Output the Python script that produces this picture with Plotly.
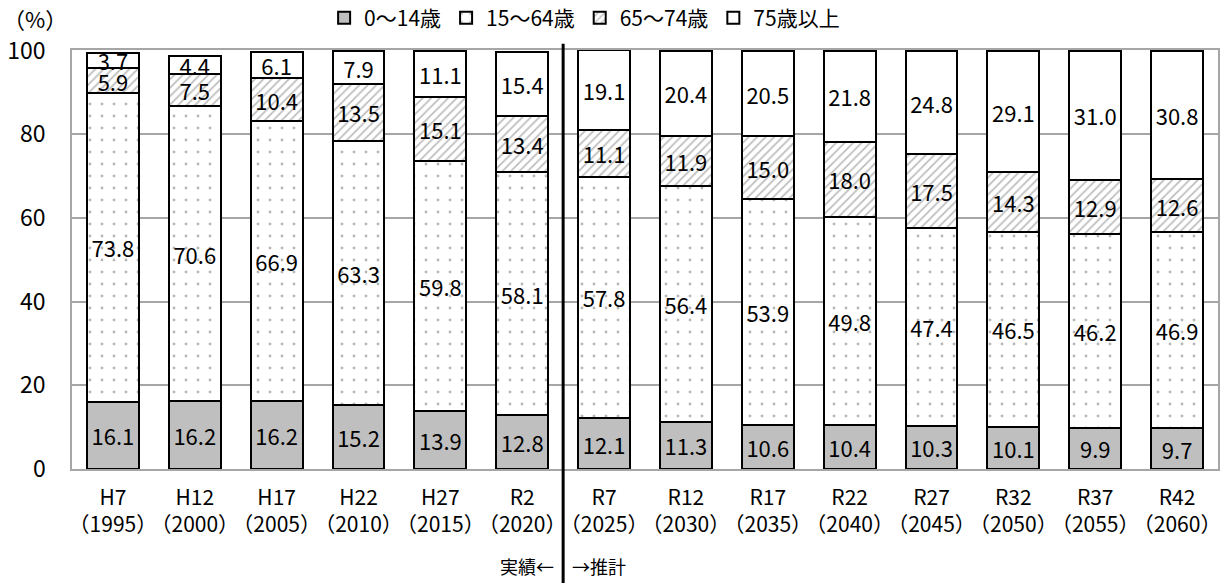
import plotly.graph_objects as go

periods = ["H7", "H12", "H17", "H22", "H27", "R2", "R7", "R12", "R17", "R22", "R27", "R32", "R37", "R42"]
years = ["1995", "2000", "2005", "2010", "2015", "2020", "2025", "2030", "2035", "2040", "2045", "2050", "2055", "2060"]

age0_14 = [16.1, 16.2, 16.2, 15.2, 13.9, 12.8, 12.1, 11.3, 10.6, 10.4, 10.3, 10.1, 9.9, 9.7]
age15_64 = [73.8, 70.6, 66.9, 63.3, 59.8, 58.1, 57.8, 56.4, 53.9, 49.8, 47.4, 46.5, 46.2, 46.9]
age65_74 = [5.9, 7.5, 10.4, 13.5, 15.1, 13.4, 11.1, 11.9, 15.0, 18.0, 17.5, 14.3, 12.9, 12.6]
age75 = [3.7, 4.4, 6.1, 7.9, 11.1, 15.4, 19.1, 20.4, 20.5, 21.8, 24.8, 29.1, 31.0, 30.8]

series_names = ["0～14歳", "15～64歳", "65～74歳", "75歳以上"]

FONT = "Noto Sans CJK JP"
cats = [f"{p}<br>（{y}）" for p, y in zip(periods, years)]

fig = go.Figure()

styles = [
    dict(color="#bfbfbf"),
    dict(color="white", pattern=dict(shape=".", fgcolor="#6e6e6e", bgcolor="white", size=12, solidity=0.045)),
    dict(color="white", pattern=dict(shape="/", fgcolor="#7a7a7a", bgcolor="white", size=6, solidity=0.28)),
    dict(color="white"),
]

for name, vals, st in zip(series_names, [age0_14, age15_64, age65_74, age75], styles):
    fig.add_trace(go.Bar(
        name=name, x=cats, y=vals,
        marker=dict(line=dict(color="black", width=2), **st),
        text=[f"{v:.1f}" for v in vals],
        textposition="inside", insidetextanchor="middle",
        constraintext="none", textangle=0,
        textfont=dict(family=FONT, size=22, color="black"),
        cliponaxis=False,
    ))

fig.add_shape(type="line", xref="x", yref="paper", x0=5.5, x1=5.5, y0=-0.28, y1=1.015,
              line=dict(color="black", width=3))

fig.add_annotation(xref="x", yref="paper", x=5.5, y=-0.232, text="実績←", showarrow=False,
                   xanchor="right", yanchor="middle", xshift=-7, font=dict(family=FONT, size=18, color="black"))
fig.add_annotation(xref="x", yref="paper", x=5.5, y=-0.232, text="→推計", showarrow=False,
                   xanchor="left", yanchor="middle", xshift=7, font=dict(family=FONT, size=18, color="black"))
fig.add_annotation(xref="paper", yref="paper", x=-0.062, y=1.076, text="（%）", showarrow=False,
                   xanchor="left", yanchor="middle", font=dict(family=FONT, size=22, color="black"))

fig.update_layout(
    width=1227, height=583,
    margin=dict(l=72, r=9, t=50, b=114, autoexpand=False),
    barmode="stack", bargap=0.366,
    plot_bgcolor="white", paper_bgcolor="white",
    font=dict(family=FONT, size=22, color="black"),
    showlegend=True,
    legend=dict(orientation="h", x=0.22, xanchor="left", y=1.076, yanchor="middle",
                traceorder="normal", font=dict(family=FONT, size=21), bgcolor="rgba(0,0,0,0)",
                itemwidth=30),
)
fig.update_xaxes(showline=True, linecolor="#a6a6a6", linewidth=1.5, mirror=True,
                 ticks="", tickangle=0, tickfont=dict(family=FONT, size=21), ticklabelstandoff=9)
fig.update_yaxes(range=[0, 100.15], tickvals=[0, 20, 40, 60, 80, 100], showgrid=True,
                 gridcolor="#a6a6a6", gridwidth=1.5,
                 showline=True, linecolor="#a6a6a6", linewidth=1.5, mirror=True, zeroline=False,
                 ticks="", tickfont=dict(family=FONT, size=23), ticklabelstandoff=20)

fig.write_html("out.html")
